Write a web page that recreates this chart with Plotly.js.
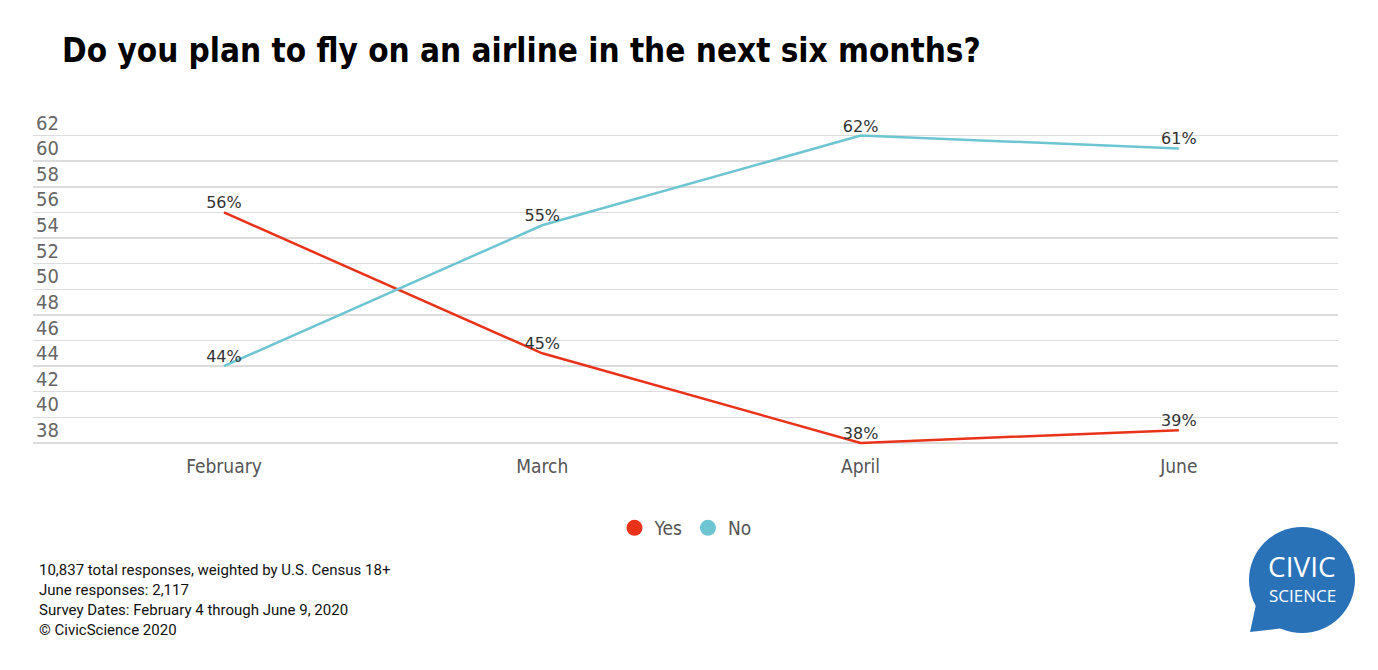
<!DOCTYPE html>
<html>
<head>
<meta charset="utf-8">
<script src="https://cdn.plot.ly/plotly-3.0.1.min.js"></script>
<style>html,body{margin:0;padding:0;background:#fff;}#chart{width:1378px;height:670px;}</style>
</head>
<body>
<div id="chart"></div>
<script>
const months = ["February", "March", "April", "June"];
const yesValues = [56, 45, 38, 39];
const noValues = [44, 55, 62, 61];
const yTicks = [38, 40, 42, 44, 46, 48, 50, 52, 54, 56, 58, 60, 62];
const footerLines = [
  "10,837 total responses, weighted by U.S. Census 18+",
  "June responses: 2,117",
  "Survey Dates: February 4 through June 9, 2020",
  "© CivicScience 2020"
];
const seriesNames = ["Yes", "No"];
const seriesColors = ["#e8321a", "#6cc5d1"];

const condensed = "DejaVu Sans Condensed, Roboto, sans-serif";
const labelFont = {family: "DejaVu Sans", size: 16, color: "#333"};
const traces = [yesValues, noValues].map((vals, i) => ({
  x: months, y: vals, type: "scatter", mode: "lines+text",
  name: seriesNames[i], showlegend: false,
  line: {color: seriesColors[i], width: 2.5},
  text: vals.map(v => v + "%"), textposition: "top center",
  textfont: labelFont, cliponaxis: false, hoverinfo: "skip"
}));
seriesNames.forEach((n, i) => traces.push({
  x: [null], y: [null], type: "scatter", mode: "markers", name: n,
  marker: {color: seriesColors[i], size: 22, symbol: "circle"}
}));

const plotTop = 110, plotBottom = 445, plotLeft = 33, plotW = 1305, plotH = plotBottom - plotTop;
const py = (pix) => -(pix - plotBottom) / plotH;
const px = (pix) => (pix - plotLeft) / plotW;

const annotations = footerLines.map((t, i) => ({
  text: t, xref: "paper", yref: "paper", x: px(37), y: py(570 + i*20),
  xanchor: "left", yanchor: "middle", showarrow: false,
  font: {family: "Roboto", size: 15, color: "#111"}
}));
annotations.push({text: "CIVIC", xref: "paper", yref: "paper", x: px(1302), y: py(566),
  xanchor: "center", yanchor: "middle", showarrow: false,
  font: {family: "Open Sans", size: 28, color: "#fff"}});
annotations.push({text: "SCIENCE", xref: "paper", yref: "paper", x: px(1302), y: py(595),
  xanchor: "center", yanchor: "middle", showarrow: false,
  font: {family: "Open Sans", size: 17, color: "#fff"}});

const ax = px(1302), ay = py(580);
const layout = {
  width: 1378, height: 670,
  margin: {l: plotLeft, r: 1378 - plotLeft - plotW, t: plotTop, b: 670 - plotBottom},
  paper_bgcolor: "#fff", plot_bgcolor: "#fff",
  title: {text: "<b>Do you plan to fly on an airline in the next six months?</b>",
    xref: "container", yref: "container", x: 62/1378, y: 1 - 50/670,
    xanchor: "left", yanchor: "middle",
    font: {family: condensed, size: 33, color: "#000"}},
  xaxis: {type: "category", range: [-0.6, 3.5], showgrid: false, zeroline: false,
    showline: false, ticks: "", ticklabelstandoff: 8,
    tickfont: {family: condensed, size: 19, color: "#555"}},
  yaxis: {range: [37.84, 64.0], tickvals: yTicks, ticktext: yTicks.map(String),
    ticklabelposition: "inside", ticklabelshift: -13,
    showgrid: true, gridcolor: "#dcdcdc", gridwidth: 1.5, zeroline: false, showline: false,
    tickfont: {family: condensed, size: 20, color: "#666"}},
  legend: {orientation: "h", x: 0.5, xanchor: "center", y: py(528), yanchor: "middle",
    font: {family: condensed, size: 19, color: "#555"}, itemwidth: 30},
  annotations: annotations,
  shapes: [
    {type: "circle", xref: "paper", yref: "paper", xsizemode: "pixel", ysizemode: "pixel",
     xanchor: ax, yanchor: ay, x0: -53, x1: 53, y0: -53, y1: 53,
     fillcolor: "#2a72b8", line: {width: 0}},
    {type: "path", xref: "paper", yref: "paper", xsizemode: "pixel", ysizemode: "pixel",
     xanchor: ax, yanchor: ay, path: "M -45 -20 L -52 -52 L -18 -48 Z",
     fillcolor: "#2a72b8", line: {width: 0}}
  ],
  showlegend: true
};
Plotly.newPlot("chart", traces, layout, {displayModeBar: false, staticPlot: true});
</script>
</body>
</html>
